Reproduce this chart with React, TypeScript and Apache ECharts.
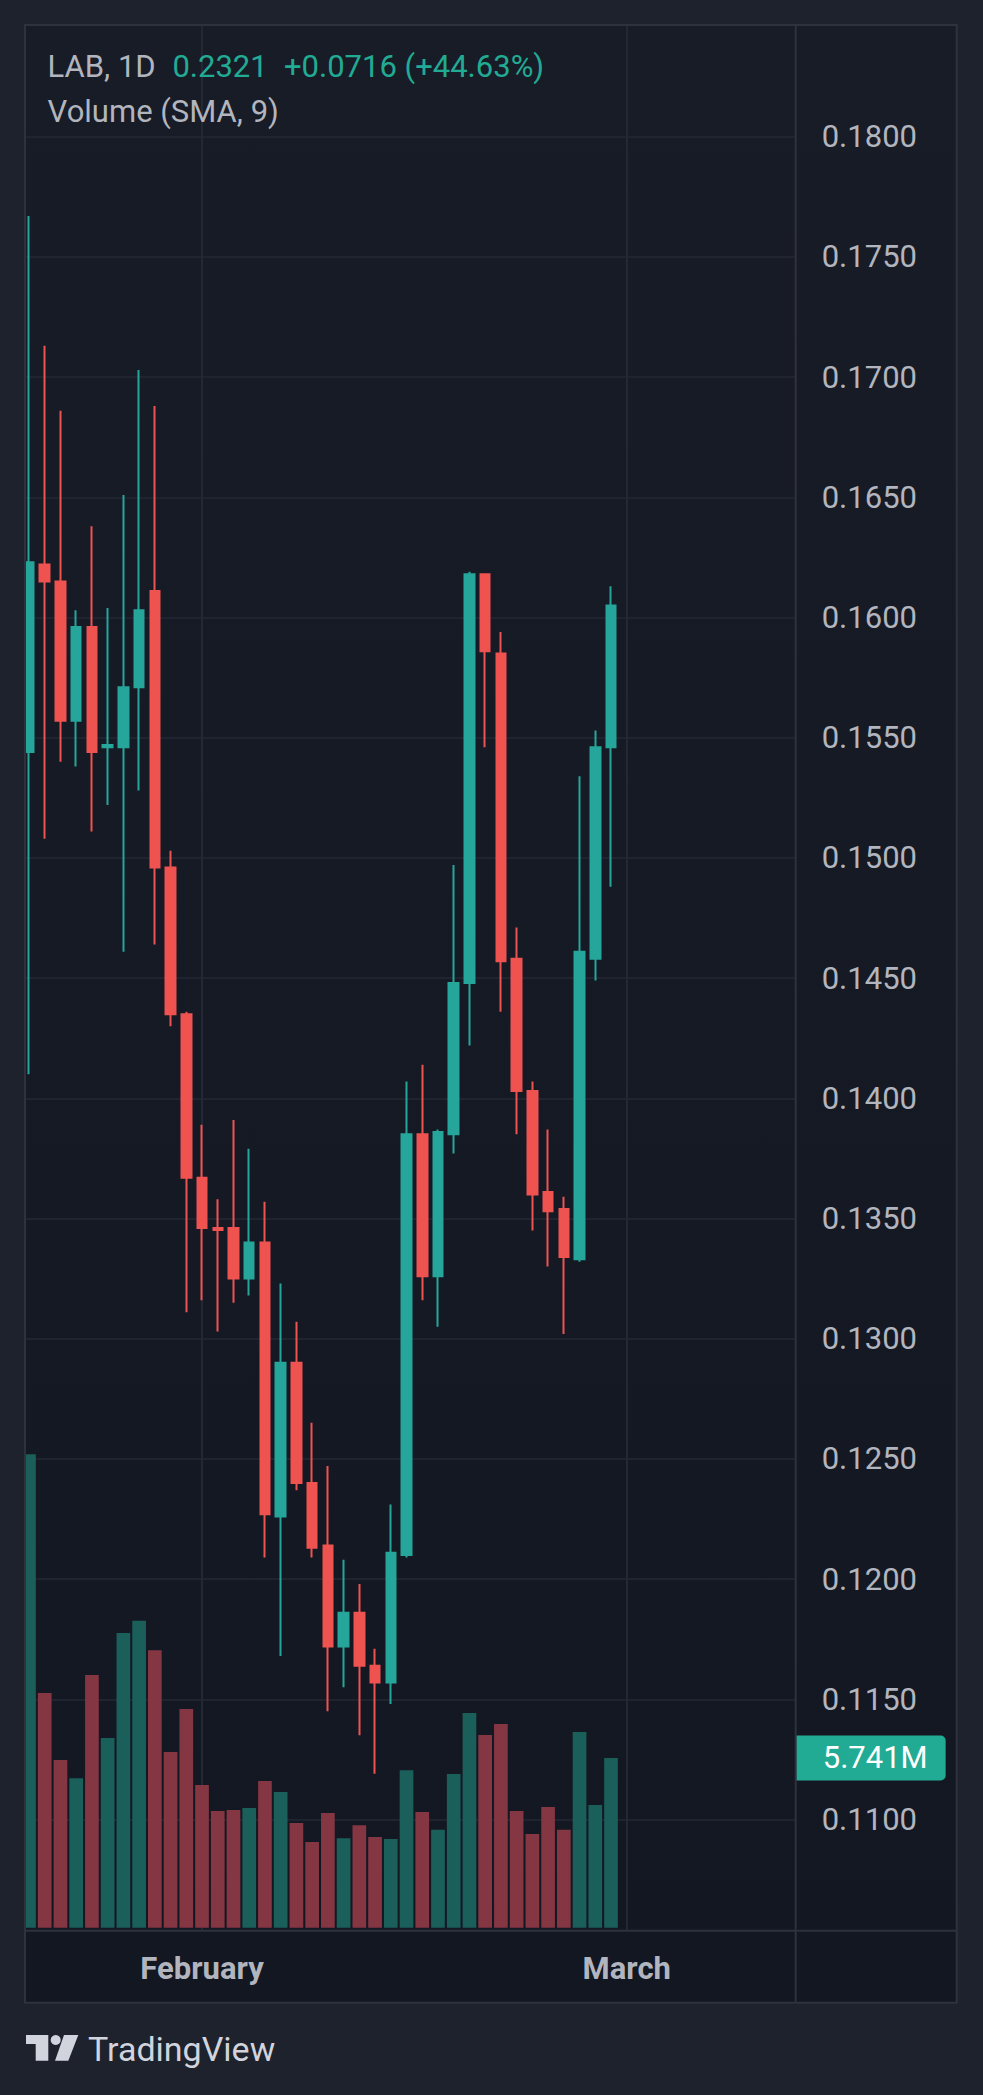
import React, { useEffect, useRef } from "react";
import * as echarts from "echarts";

// ---- data ----
const CANDLE_DATES = [
  "01-21", "01-22", "01-23", "01-24", "01-25", "01-26", "01-27", "01-28", "01-29", "01-30", "01-31",
  "02-01", "02-02", "02-03", "02-04", "02-05", "02-06", "02-07", "02-08", "02-09", "02-10", "02-11",
  "02-12", "02-13", "02-14", "02-15", "02-16", "02-17", "02-18", "02-19", "02-20", "02-21", "02-22",
  "02-23", "02-24", "02-25", "02-26", "02-27",
];
const FUTURE_DATES = ["03-01", "03-02", "03-03", "03-04", "03-05", "03-06", "03-07", "03-08", "03-09", "03-10", "03-11"];
const MONTH_NAMES: Record<string, string> = { "02": "February", "03": "March" };

const OPEN = [0.1544, 0.1622, 0.1615, 0.1557, 0.1596, 0.1546, 0.1546, 0.1571, 0.1611, 0.1496, 0.1435, 0.1367, 0.1346, 0.1346, 0.1325, 0.134, 0.1226, 0.129, 0.124, 0.1214, 0.1172, 0.1186, 0.1164, 0.1157, 0.121, 0.1385, 0.1326, 0.1385, 0.1448, 0.1618, 0.1585, 0.1458, 0.1403, 0.1361, 0.1354, 0.1333, 0.1458, 0.1546];
const CLOSE = [0.1623, 0.1615, 0.1557, 0.1596, 0.1544, 0.1547, 0.1571, 0.1603, 0.1496, 0.1435, 0.1367, 0.1346, 0.13452, 0.1325, 0.134, 0.1227, 0.129, 0.124, 0.1213, 0.1172, 0.1186, 0.1164, 0.1157, 0.1211, 0.1385, 0.1326, 0.1386, 0.1448, 0.1618, 0.1586, 0.1457, 0.1403, 0.136, 0.1353, 0.1334, 0.1461, 0.1546, 0.1605];
const LOW = [0.141, 0.1508, 0.154, 0.1538, 0.1511, 0.1522, 0.1461, 0.1528, 0.1464, 0.143, 0.1311, 0.1316, 0.1303, 0.1315, 0.1318, 0.1209, 0.1168, 0.1237, 0.1209, 0.1145, 0.1155, 0.1135, 0.1119, 0.1148, 0.1209, 0.1316, 0.1305, 0.1377, 0.1422, 0.1546, 0.1436, 0.1385, 0.1345, 0.133, 0.1302, 0.1332, 0.1449, 0.1488];
const HIGH = [0.1767, 0.1713, 0.1686, 0.1603, 0.1638, 0.1604, 0.1651, 0.1703, 0.1688, 0.1503, 0.1436, 0.1389, 0.1358, 0.1391, 0.1379, 0.1357, 0.1323, 0.1307, 0.1265, 0.1247, 0.1208, 0.1198, 0.1171, 0.1231, 0.1407, 0.1414, 0.1387, 0.1497, 0.1619, 0.1618, 0.1594, 0.1471, 0.1407, 0.1387, 0.1359, 0.1534, 0.1553, 0.1613];
// volume in millions
const VOLUME = [16.02, 7.94, 5.67, 5.06, 8.55, 6.42, 9.97, 10.38, 9.39, 5.94, 7.4, 4.83, 3.95, 3.98, 4.05, 4.96, 4.59, 3.54, 2.9, 3.88, 3.03, 3.47, 3.07, 3.0, 5.33, 3.91, 3.31, 5.2, 7.26, 6.52, 6.89, 3.95, 3.17, 4.08, 3.31, 6.62, 4.15, 5.741];

const HEADER_SYMBOL = "LAB, 1D";
const HEADER_PRICE = "0.2321";
const HEADER_CHANGE = "+0.0716 (+44.63%)";
const HEADER_STUDY = "Volume (SMA, 9)";

// ---- style ----
const W = 983;
const H = 2095;
const OUTER_BG = "#1e222d";
const PANEL_TOP = "#181c27";
const PANEL_BOTTOM = "#131722";
const GRID_LINE = "#242834";
const BORDER = "#2e323d";
const TEXT = "#b2b5be";
const UP = "#26a69a";
const DOWN = "#ef5350";
const UP_VOL = "#1b5f5b";
const DOWN_VOL = "#853643";
const ACCENT = "#22ab94";
const FONT = "Roboto";

const PANEL_L = 25;
const PANEL_T = 25;
const PANEL_R = 956.7;
const PANEL_B = 2002.7;
const PLOT_R = 795.7;
const PLOT_B = 1930.7;
const BAR_STEP = 15.73;
const FIRST_CENTER = 29;
const N_CAT = CANDLE_DATES.length + FUTURE_DATES.length;

const PRICE_MIN = 0.105;
const PRICE_MAX = 0.185;
const PRICE_TOP_Y = 16.5;
const PRICE_BOTTOM_Y = 1939.7;
const VOL_BASE_Y = 1927.7;
const VOL_PX_PER_M = 29.56;

export default function App() {
  const ref = useRef<HTMLDivElement>(null);

  useEffect(() => {
    document.body.style.margin = "0";
    document.body.style.overflow = "hidden";
    if (!ref.current) return;
    const chart = echarts.init(ref.current, undefined, { renderer: "svg" });

    const categories = [...CANDLE_DATES, ...FUTURE_DATES];
    const candles = OPEN.map((o, i) => [o, CLOSE[i], LOW[i], HIGH[i]]);
    const volumes = VOLUME.map((v, i) => ({
      value: v,
      itemStyle: { color: CLOSE[i] >= OPEN[i] ? UP_VOL : DOWN_VOL },
    }));

    const gridALeft = FIRST_CENTER - BAR_STEP / 2;
    const gridARight = W - (gridALeft + N_CAT * BAR_STEP);
    const gridBRight = W - (FIRST_CENTER + (N_CAT - 1) * BAR_STEP);
    const volMin = -(PRICE_BOTTOM_Y - VOL_BASE_Y) / VOL_PX_PER_M;
    const volMax = (VOL_BASE_Y - PRICE_TOP_Y) / VOL_PX_PER_M;

    const isMonthStart = (v: string) => v.endsWith("-01");
    const lastVolume = VOLUME[VOLUME.length - 1];

    const option: any = {
      animation: false,
      backgroundColor: OUTER_BG,
      grid: [
        // A: candles + volume
        { left: gridALeft, right: gridARight, top: PRICE_TOP_Y, bottom: H - PRICE_BOTTOM_Y },
        // C: price labels + horizontal grid lines
        { left: PANEL_L, right: W - PLOT_R, top: PRICE_TOP_Y, bottom: H - PRICE_BOTTOM_Y },
        // B: month labels + vertical grid lines
        { left: FIRST_CENTER, right: gridBRight, top: PANEL_T, bottom: H - PLOT_B },
        // D: volume label axis (same vertical scale as volume)
        { left: PANEL_L, right: W - PLOT_R, top: PRICE_TOP_Y, bottom: H - PRICE_BOTTOM_Y },
      ],
      xAxis: [
        { type: "category", gridIndex: 0, data: categories, boundaryGap: true, show: false },
        { type: "value", gridIndex: 1, min: 0, max: 1, show: false },
        {
          type: "category",
          gridIndex: 2,
          data: categories,
          boundaryGap: false,
          axisLine: { show: false },
          axisTick: { show: false },
          axisLabel: {
            interval: (_i: number, v: string) => isMonthStart(v),
            formatter: (v: string) => (isMonthStart(v) ? MONTH_NAMES[v.slice(0, 2)] || "" : ""),
            color: TEXT,
            fontSize: 31,
            fontWeight: "bold",
            fontFamily: FONT,
            verticalAlign: "middle",
            margin: 37.6,
          },
          splitLine: {
            show: true,
            interval: (_i: number, v: string) => isMonthStart(v),
            lineStyle: { color: GRID_LINE, width: 2 },
          },
        },
        { type: "value", gridIndex: 3, min: 0, max: 1, show: false },
      ],
      yAxis: [
        { type: "value", gridIndex: 0, min: PRICE_MIN, max: PRICE_MAX, show: false },
        { type: "value", gridIndex: 0, min: volMin, max: volMax, show: false },
        {
          type: "value",
          gridIndex: 1,
          position: "right",
          min: PRICE_MIN,
          max: PRICE_MAX,
          interval: 0.005,
          axisLine: { show: false },
          axisTick: { show: false },
          axisLabel: {
            formatter: (v: number) => v.toFixed(4),
            color: TEXT,
            fontSize: 31,
            fontFamily: FONT,
            margin: 26,
            showMinLabel: false,
            showMaxLabel: false,
          },
          splitLine: {
            show: true,
            showMinLine: false,
            showMaxLine: false,
            lineStyle: { color: GRID_LINE, width: 1.6 },
          },
        },
        { type: "value", gridIndex: 2, min: 0, max: 1, show: false },
        { type: "value", gridIndex: 3, min: volMin, max: volMax, show: false },
      ],
      series: [
        {
          type: "bar",
          name: "Volume",
          xAxisIndex: 0,
          yAxisIndex: 1,
          data: volumes,
          barWidth: "87%",
          z: 1,
        },
        {
          type: "candlestick",
          name: "LAB",
          xAxisIndex: 0,
          yAxisIndex: 0,
          data: candles,
          barWidth: 10,
          z: 3,
          itemStyle: {
            color: UP,
            color0: DOWN,
            borderColor: UP,
            borderColor0: DOWN,
            borderWidth: 2,
          },
        },
        {
          // last-volume price-scale label
          type: "scatter",
          name: "Last volume",
          xAxisIndex: 3,
          yAxisIndex: 4,
          data: [[1, lastVolume]],
          symbolSize: 0.01,
          itemStyle: { color: "rgba(0,0,0,0)", opacity: 1 },
          z: 50,
          clip: false,
          label: {
            show: true,
            position: "right",
            distance: 0,
            opacity: 1,
            formatter: (p: any) => Number(p.value[1]).toFixed(3) + "M",
            color: "#ffffff",
            fontSize: 31,
            fontFamily: FONT,
            backgroundColor: ACCENT,
            padding: [7, 18, 7, 27],
            borderRadius: [0, 5, 5, 0],
          },
        },
      ],
      graphic: [
        {
          type: "rect",
          z: -10,
          silent: true,
          shape: { x: PANEL_L, y: PANEL_T, width: PANEL_R - PANEL_L, height: PANEL_B - PANEL_T },
          style: {
            fill: new echarts.graphic.LinearGradient(0, 0, 0, 1, [
              { offset: 0, color: PANEL_TOP },
              { offset: 1, color: PANEL_BOTTOM },
            ]),
          },
        },
        // masks for content outside the plot
        { type: "rect", z: 100, silent: true, shape: { x: 0, y: 0, width: W, height: PANEL_T }, style: { fill: OUTER_BG } },
        { type: "rect", z: 100, silent: true, shape: { x: 0, y: 0, width: PANEL_L, height: PANEL_B }, style: { fill: OUTER_BG } },
        { type: "rect", z: 100, silent: true, shape: { x: PANEL_L + 1, y: PLOT_B + 1, width: PLOT_R - PANEL_L - 2, height: 14 }, style: { fill: PANEL_BOTTOM } },
        // panel borders
        {
          type: "rect",
          z: 101,
          silent: true,
          shape: { x: PANEL_L, y: PANEL_T, width: PANEL_R - PANEL_L, height: PANEL_B - PANEL_T },
          style: { fill: "none", stroke: BORDER, lineWidth: 2 },
        },
        { type: "line", z: 101, silent: true, shape: { x1: PLOT_R, y1: PANEL_T, x2: PLOT_R, y2: PANEL_B }, style: { stroke: BORDER, lineWidth: 2 } },
        { type: "line", z: 101, silent: true, shape: { x1: PANEL_L, y1: PLOT_B, x2: PANEL_R, y2: PLOT_B }, style: { stroke: BORDER, lineWidth: 2 } },
        // header
        { type: "text", z: 102, x: 47.6, y: 66.2, style: { text: HEADER_SYMBOL, fill: TEXT, fontSize: 31, fontFamily: FONT, verticalAlign: "middle" } },
        { type: "text", z: 102, x: 172.4, y: 66.2, style: { text: HEADER_PRICE, fill: ACCENT, fontSize: 31, fontFamily: FONT, verticalAlign: "middle" } },
        { type: "text", z: 102, x: 284, y: 66.2, style: { text: HEADER_CHANGE, fill: ACCENT, fontSize: 31, fontFamily: FONT, verticalAlign: "middle" } },
        { type: "text", z: 102, x: 47.6, y: 111.3, style: { text: HEADER_STUDY, fill: TEXT, fontSize: 31, fontFamily: FONT, verticalAlign: "middle" } },
        // TradingView logo
        {
          type: "group",
          z: 102,
          children: [
            { type: "polygon", shape: { points: [[26, 2035], [48.3, 2035], [48.3, 2060.7], [35.7, 2060.7], [35.7, 2044], [26, 2044]] }, style: { fill: "#d1d4dc" } },
            { type: "circle", shape: { cx: 55.7, cy: 2040, r: 5 }, style: { fill: "#d1d4dc" } },
            { type: "polygon", shape: { points: [[64, 2035], [78.3, 2035], [68.3, 2060.7], [55, 2060.7]] }, style: { fill: "#d1d4dc" } },
            { type: "text", x: 88, y: 2049.3, style: { text: "TradingView", fill: "#d1d4dc", fontSize: 34, fontFamily: FONT, verticalAlign: "middle" } },
          ],
        },
      ],
    };

    chart.setOption(option);
    return () => chart.dispose();
  }, []);

  return <div ref={ref} style={{ width: W, height: H }} />;
}
